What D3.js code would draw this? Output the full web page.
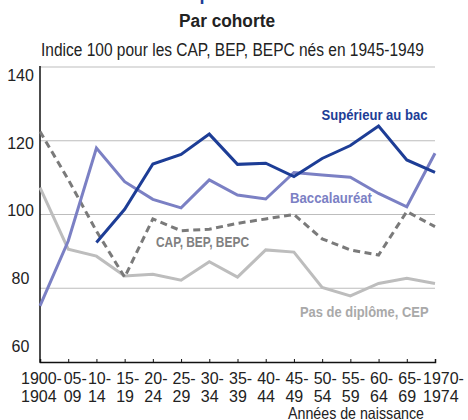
<!DOCTYPE html>
<meta charset="utf-8">
<style>
body { margin: 0; background: #fff; }
svg text { font-family: "Liberation Sans", Arial, sans-serif; }
.grid { stroke: #bdbdbd; stroke-width: 1.2px; }
.serie { fill: none; stroke-width: 3px; stroke-linejoin: miter; }
.lbl { font-weight: bold; font-size: 15px; }
</style>
<body>
<script src="https://d3js.org/d3.v7.min.js"></script>
<svg id="chart" width="468" height="420"></svg>
<script>
  // cohortes de naissance
  var cohorts = ["1900-1904","1905-1909","1910-1914","1915-1919","1920-1924","1925-1929","1930-1934",
                 "1935-1939","1940-1944","1945-1949","1950-1954","1955-1959","1960-1964","1965-1969","1970-1974"];
  var tickTop = ["1900-","05-","10-","15-","20-","25-","30-","35-","40-","45-","50-","55-","60-","65-","1970-"];
  var tickBottom = ["1904","09","14","19","24","29","34","39","44","49","54","59","64","69","1974"];
  var yTicks = [60, 80, 100, 120, 140];
  var gridValues = [80, 100, 120, 140];

  // indice 100 = CAP, BEP, BEPC nes en 1945-1949
  var superieur = [null, null, 92.4, 101.4, 113.7, 116.3, 121.8, 113.6, 113.9, 110.3, 115.2, 118.7, 124.0, 114.8, 111.4];
  var bac       = [75.2, 92.8, 118.0, 108.9, 104.1, 101.8, 109.4, 105.3, 104.2, 111.4, 110.7, 110.1, 105.7, 102.1, 116.6];
  var cap       = [122.5, 109.5, 95.5, 83.0, 98.8, 95.6, 96.0, 97.6, 98.8, 100.0, 93.4, 90.4, 89.0, 100.8, 96.7];
  var sansDipl  = [107.3, 90.6, 88.7, 83.3, 83.8, 82.2, 87.2, 83.0, 90.4, 89.8, 80.2, 77.9, 81.3, 82.7, 81.3];

  var svg = d3.select('#chart');

  // police etroite : on resserre le texte a la largeur voulue
  function fit(sel, w) {
    sel.attr('textLength', w).attr('lengthAdjust', 'spacingAndGlyphs');
  }

  var x = d3.scalePoint().domain(cohorts).range([40, 435]);
  var y = d3.scaleLinear().domain([60, 140]).range([362, 67]);
  // les libelles de l'axe vertical ne sont pas tout a fait alignes sur la grille
  var yLab = d3.scaleLinear().domain([60, 140]).range([346, 75]);

  // bout de titre coupe en haut
  svg.append('text')
    .attr('x', 199.5).attr('y', 0)
    .attr('fill', '#1d3d96')
    .style('font-weight', 'bold').style('font-size', '18px')
    .text('p');

  svg.append('text')
    .attr('x', 227).attr('y', 27)
    .attr('text-anchor', 'middle')
    .style('font-weight', 'bold').style('font-size', '18px')
    .attr('fill', '#222')
    .text('Par cohorte')
    .call(fit, 96);

  svg.append('text')
    .attr('x', 232.5).attr('y', 56)
    .attr('text-anchor', 'middle')
    .style('font-size', '17.5px')
    .attr('fill', '#222')
    .text('Indice 100 pour les CAP, BEP, BEPC nés en 1945-1949')
    .call(fit, 383);

  // grille
  svg.selectAll('.grid')
    .data(gridValues)
    .enter().append('line')
      .attr('class', 'grid')
      .attr('x1', 40).attr('x2', 435)
      .attr('y1', function(d) { return y(d); })
      .attr('y2', function(d) { return y(d); });

  // libelles axe y
  svg.selectAll('.ylab')
    .data(yTicks)
    .enter().append('text')
      .attr('class', 'ylab')
      .attr('x', 20.5)
      .attr('y', function(d) { return yLab(d); })
      .attr('dy', '0.36em')
      .attr('text-anchor', 'middle')
      .style('font-size', '16px')
      .attr('fill', '#222')
      .text(function(d) { return d; });

  // axe x
  var xAxis = svg.append('g')
    .attr('transform', 'translate(0,' + y(60) + ')')
    .call(d3.axisBottom(x).tickSize(-3).tickFormat(''));
  xAxis.select('.domain').attr('stroke', '#111').attr('stroke-width', 1.5);
  xAxis.selectAll('.tick line').attr('stroke', '#111');

  // libelles sur deux lignes, cales a gauche
  var last = cohorts.length - 1;
  function shift(i) { return i === 0 ? -19.5 : i === 1 ? -5 : i === last ? -12.5 : -9; }
  var tl = xAxis.selectAll('.tick');
  tl.append('text')
    .attr('fill', '#222').style('font-size', '16px')
    .attr('text-anchor', 'start')
    .attr('x', function(d, i) { return shift(i); }).attr('y', 22)
    .text(function(d, i) { return tickTop[i]; });
  tl.append('text')
    .attr('fill', '#222').style('font-size', '16px')
    .attr('text-anchor', 'start')
    .attr('x', function(d, i) { return shift(i); }).attr('y', 39.5)
    .text(function(d, i) { return tickBottom[i]; });

  svg.append('line')
    .attr('x1', 40).attr('x2', 40)
    .attr('y1', y(140) - 1).attr('y2', y(60) + 0.75)
    .attr('stroke', '#111').attr('stroke-width', 1.5);

  svg.append('text')
    .attr('x', 424).attr('y', 419)
    .attr('text-anchor', 'end')
    .style('font-size', '16.5px')
    .attr('fill', '#222')
    .text('Années de naissance')
    .call(fit, 136);

  // courbes
  var line = d3.line()
    .defined(function(d) { return d.v != null; })
    .x(function(d) { return x(d.c); })
    .y(function(d) { return y(d.v); });

  function serie(vals) {
    return vals.map(function(v, i) { return {c: cohorts[i], v: v}; });
  }

  svg.append('path').datum(serie(sansDipl)).attr('class', 'serie')
    .attr('stroke', '#bdbdbd').attr('d', line);
  svg.append('path').datum(serie(cap)).attr('class', 'serie')
    .attr('stroke', '#7a7a7a').attr('stroke-dasharray', '7,4.5').attr('d', line);
  svg.append('path').datum(serie(bac)).attr('class', 'serie')
    .attr('stroke', '#7b80c4').attr('d', line);
  svg.append('path').datum(serie(superieur)).attr('class', 'serie')
    .attr('stroke', '#1d3d96').attr('d', line);

  // etiquettes des series
  var labels = [
    {t: 'Supérieur au bac', x: 321.5, y: 120, c: '#1d3d96', w: 106},
    {t: 'Baccalauréat', x: 290, y: 202.5, c: '#7b80c4', w: 82},
    {t: 'CAP, BEP, BEPC', x: 156, y: 247, c: '#808080', w: 93},
    {t: 'Pas de diplôme, CEP', x: 300, y: 316.5, c: '#a9a9a9', w: 128.5}
  ];
  svg.selectAll('.lbl')
    .data(labels)
    .enter().append('text')
      .attr('class', 'lbl')
      .attr('x', function(d) { return d.x; })
      .attr('y', function(d) { return d.y; })
      .attr('fill', function(d) { return d.c; })
      .attr('textLength', function(d) { return d.w; })
      .attr('lengthAdjust', 'spacingAndGlyphs')
      .text(function(d) { return d.t; });
</script>
</body>
